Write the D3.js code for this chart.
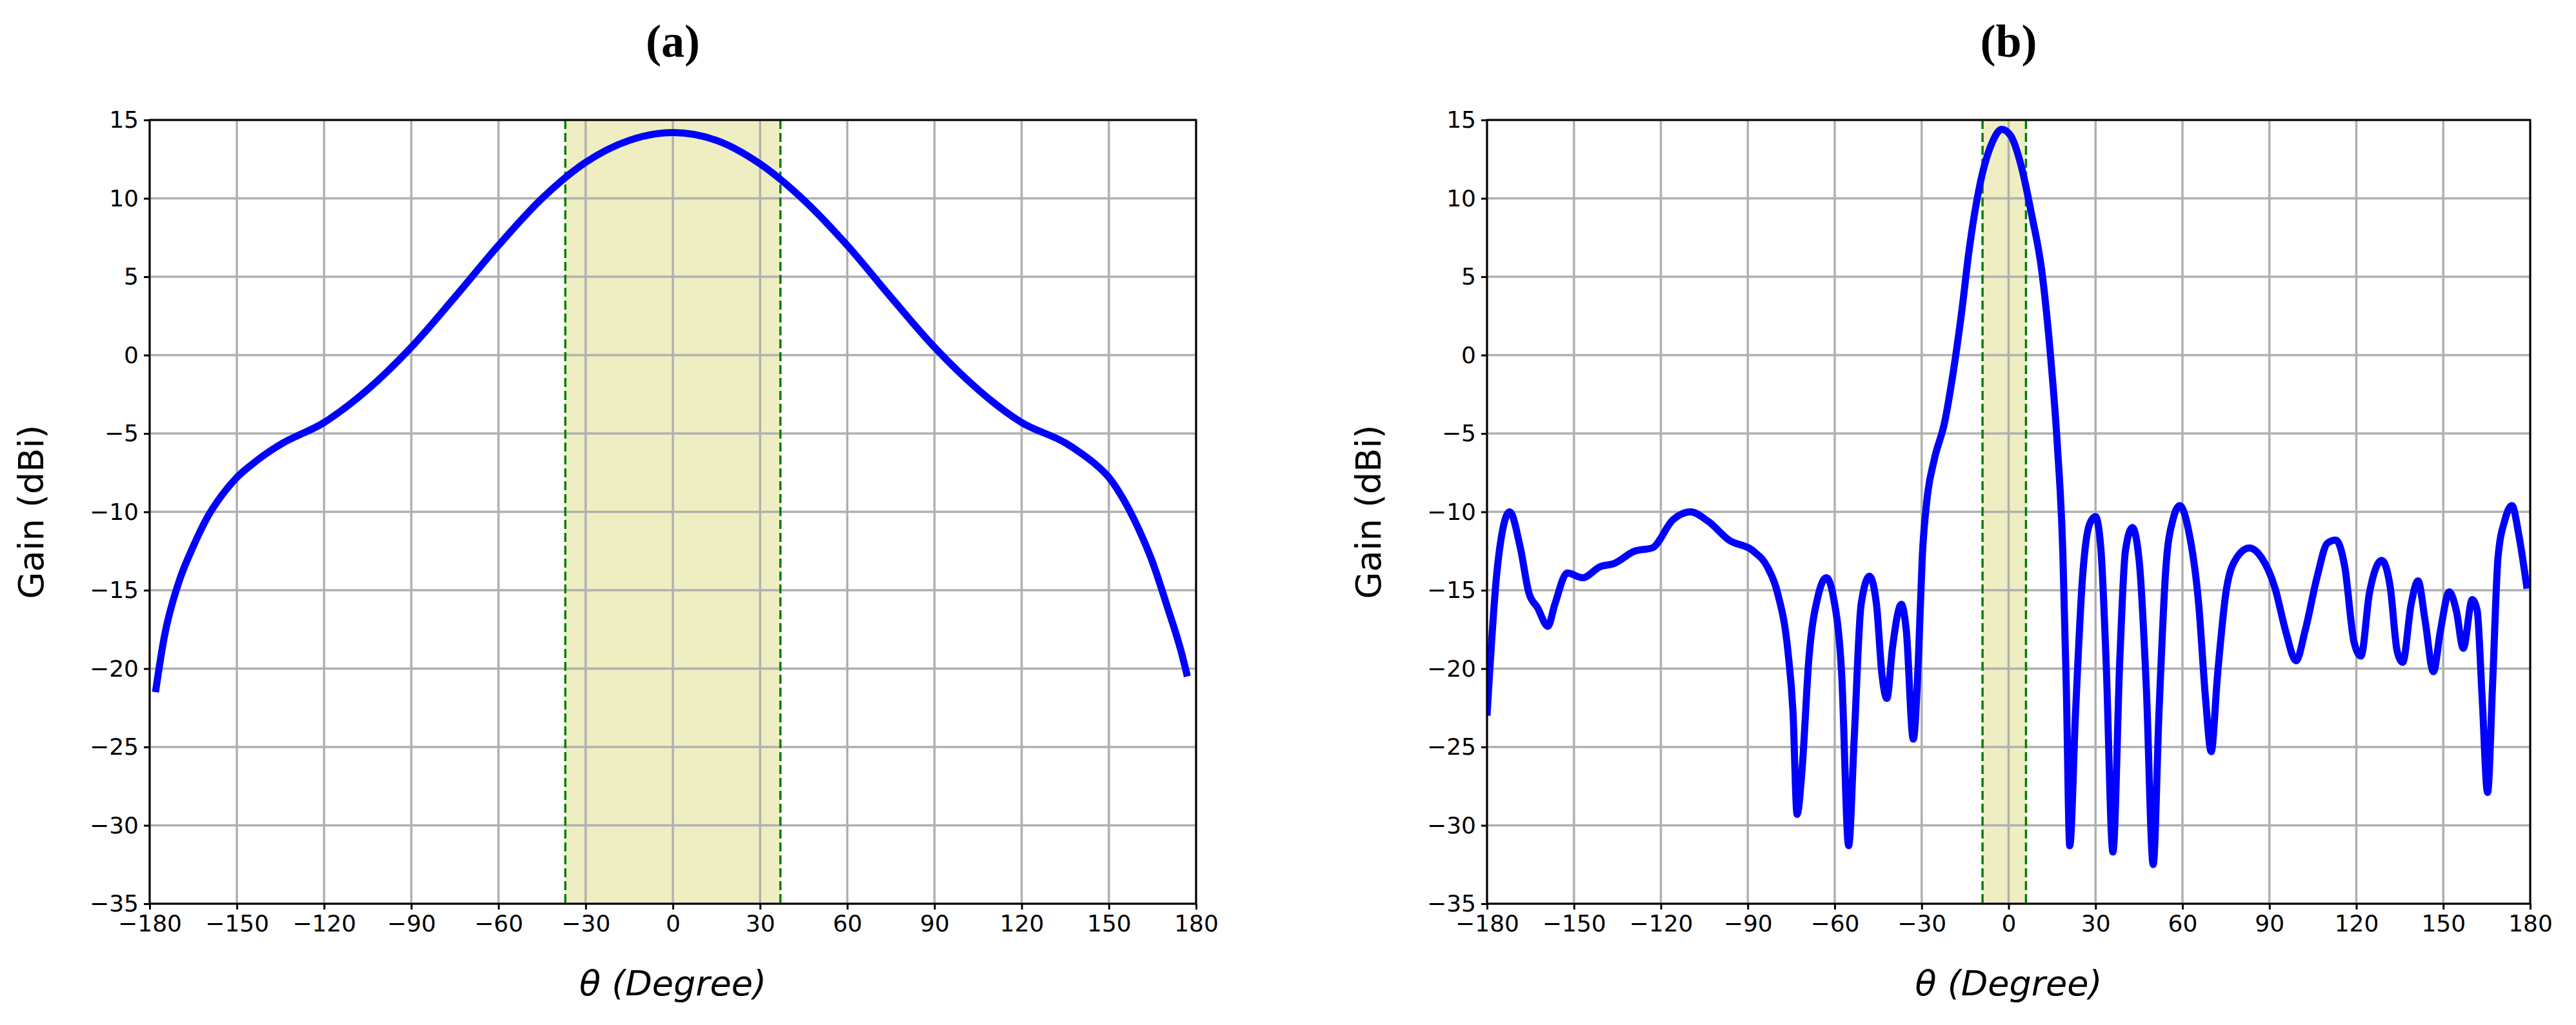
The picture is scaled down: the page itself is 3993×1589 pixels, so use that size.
<!DOCTYPE html>
<html><head><meta charset="utf-8">
<script src="https://cdn.jsdelivr.net/npm/d3@7"></script>
<style>body{margin:0;background:#fff}</style></head>
<body><svg id="c" width="3993" height="1589"></svg>
<script>
const thetaA=[-178,-175,-170,-165,-160,-155,-150,-145,-140,-135,-120,-105,-90,-75,-60,-45,-30,-15,0,15,30,45,60,75,90,105,120,135,140,145,150,155,160,165,170,175,177];
const gainA=[-21.5,-18,-14.5,-12.2,-10.3,-8.9,-7.8,-7,-6.3,-5.7,-4.3,-2.2,0.5,3.7,7,10,12.3,13.7,14.2,13.7,12.2,9.9,7,3.7,0.5,-2.2,-4.3,-5.6,-6.2,-6.9,-7.8,-9.2,-11,-13.2,-16,-19,-20.5];
const thetaB=[-180,-176.4,-172.2,-168.6,-165.5,-162.6,-159,-156.6,-152.3,-147,-141,-136.2,-129,-123,-115.8,-109.8,-103.7,-96.5,-88.1,-83.3,-79.7,-76.1,-74.4,-73,-71.3,-68.9,-65.8,-62.9,-60.5,-57.6,-55.2,-53.3,-50.9,-48,-45.6,-43.7,-42,-40.1,-37,-35.3,-32.9,-31.2,-29.8,-28.1,-25.7,-22.1,-19.2,-16.1,-13.7,-10.1,-5.8,-2.4,0.7,4.3,7.9,11.5,14.4,16.8,18.7,19.9,21.1,23.1,25.5,27.9,30,31.9,33.6,36,38.4,40.3,42.7,45.1,47.5,49.9,51.9,54.3,56.7,59.1,62,65.6,68,69.9,72.1,75.2,78.8,83.1,87.2,92,95.6,99.2,102.3,106.4,110,112.9,116,119.2,121.6,124.5,128.8,131.7,134.1,136,138.9,141.3,143.7,146.6,149,152.1,154.5,156.9,160,161.7,163.4,165.3,167,168.9,171.3,173.7,176.1,178.9];
const gainB=[-23,-13.5,-10,-12.2,-15.2,-16.1,-17.3,-15.9,-13.9,-14.2,-13.5,-13.3,-12.5,-12.3,-10.5,-10,-10.6,-11.8,-12.5,-13.5,-15.2,-19,-22.8,-29.3,-26.5,-19.3,-15.4,-14.2,-15.4,-20.4,-31.3,-24.5,-15.9,-14.1,-15.9,-20.4,-21.9,-18.7,-15.9,-17.6,-24.5,-19.7,-12.9,-9.1,-6.7,-4.3,-1.2,2.9,6.6,10.7,13.5,14.4,14,12.1,9,5.3,0.1,-5.7,-12.5,-21.1,-31.3,-22.8,-14.2,-10.8,-10.3,-12.5,-19.3,-31.7,-19.3,-12.5,-11,-13.2,-21.1,-32.5,-22.8,-13.5,-10.5,-9.6,-11.1,-15.9,-22,-25.3,-20.4,-14.9,-12.9,-12.3,-12.9,-14.9,-17.6,-19.5,-17.6,-14.2,-12,-11.8,-13.5,-18.3,-19.2,-15.2,-13.1,-14.8,-18.9,-19.6,-15.9,-14.4,-16.9,-20.2,-17.6,-15.1,-16.3,-18.7,-15.6,-16.3,-21.8,-27.9,-21.1,-12.9,-10.5,-9.6,-11.5,-14.9];
const bandA=[-37,37];
const bandB=[-9,6];
const xTicks=[-180,-150,-120,-90,-60,-30,0,30,60,90,120,150,180];
const yTicks=[15,10,5,0,-5,-10,-15,-20,-25,-30,-35];
const titles=["(a)","(b)"];

const svg=d3.select("#c");
const yTop=186,yBot=1401;
const panels=[{l:232,r:1854,t:thetaA,g:gainA,band:bandA,title:titles[0]},
              {l:2305,r:3922,t:thetaB,g:gainB,band:bandB,title:titles[1]}];
const fmt=v=>String(v).replace("-","\u2212");
panels.forEach((p,i)=>{
  const x=d3.scaleLinear().domain([-180,180]).range([p.l,p.r]);
  const y=d3.scaleLinear().domain([-35,15]).range([yBot,yTop]);
  const g=svg.append("g");
  g.append("rect").attr("x",x(p.band[0])).attr("y",yTop).attr("width",x(p.band[1])-x(p.band[0])).attr("height",yBot-yTop).attr("fill","#eeeec2");
  g.selectAll(".gx").data(xTicks).join("line").attr("x1",d=>x(d)).attr("x2",d=>x(d)).attr("y1",yTop).attr("y2",yBot).attr("stroke","#b0b0b0").attr("stroke-width",3.5);
  g.selectAll(".gy").data(yTicks).join("line").attr("y1",d=>y(d)).attr("y2",d=>y(d)).attr("x1",p.l).attr("x2",p.r).attr("stroke","#b0b0b0").attr("stroke-width",3.5);
  p.band.forEach(b=>g.append("line").attr("x1",x(b)).attr("x2",x(b)).attr("y1",yTop).attr("y2",yBot).attr("stroke","green").attr("stroke-width",3.5).attr("stroke-dasharray","14,6"));
  const cid="clip"+i;
  svg.append("clipPath").attr("id",cid).append("rect").attr("x",p.l).attr("y",yTop).attr("width",p.r-p.l).attr("height",yBot-yTop);
  const data=p.t.map((t,k)=>[t,p.g[k]]);
  g.append("path").datum(data).attr("clip-path",`url(#${cid})`).attr("fill","none").attr("stroke","#0000ff").attr("stroke-width",11).attr("stroke-linejoin","round")
   .attr("d",d3.line().x(d=>x(d[0])).y(d=>y(d[1])).curve(d3.curveMonotoneX));
  const xa=g.append("g").attr("transform",`translate(0,${yBot})`).call(d3.axisBottom(x).tickValues(xTicks).tickFormat(fmt).tickSize(9).tickPadding(8));
  const ya=g.append("g").attr("transform",`translate(${p.l},0)`).call(d3.axisLeft(y).tickValues(yTicks).tickFormat(fmt).tickSize(9).tickPadding(8));
  [xa,ya].forEach(a=>{a.select(".domain").remove();a.selectAll("line").attr("stroke","#000").attr("stroke-width",3);a.selectAll("text").attr("font-family","DejaVu Sans").attr("font-size",36).attr("fill","#000");});
  g.append("rect").attr("x",p.l).attr("y",yTop).attr("width",p.r-p.l).attr("height",yBot-yTop).attr("fill","none").attr("stroke","#000").attr("stroke-width",3);
  g.append("text").attr("x",(p.l+p.r)/2).attr("y",1543).attr("text-anchor","middle").attr("font-family","DejaVu Sans").attr("font-style","italic").attr("font-size",54).text("\u03b8 (Degree)");
  g.append("text").attr("transform",`translate(${p.l-165},${(yTop+yBot)/2}) rotate(-90)`).attr("text-anchor","middle").attr("font-family","DejaVu Sans").attr("font-size",54).text("Gain (dBi)");
  g.append("text").attr("x",(p.l+p.r)/2).attr("y",88).attr("text-anchor","middle").attr("font-family","Liberation Sans Narrow").attr("font-weight","bold").attr("font-size",72).text(p.title);
});
</script></body></html>
